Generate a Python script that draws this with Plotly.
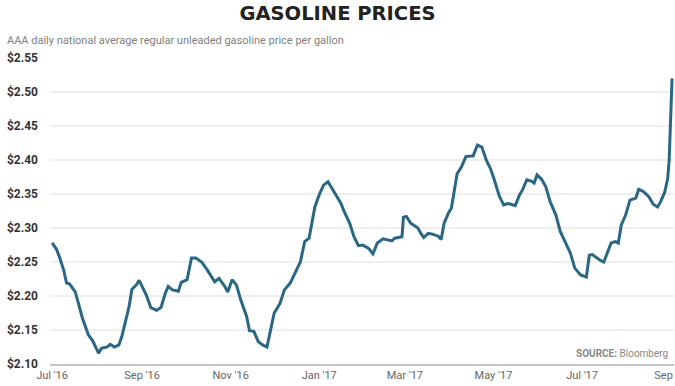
import plotly.graph_objects as go

dates = [
    "2016-07-01", "2016-07-04", "2016-07-06", "2016-07-09", "2016-07-11", "2016-07-13",
    "2016-07-17", "2016-07-20", "2016-07-22", "2016-07-26", "2016-07-29", "2016-08-02",
    "2016-08-04", "2016-08-08", "2016-08-10", "2016-08-13", "2016-08-16", "2016-08-18",
    "2016-08-20", "2016-08-23", "2016-08-25", "2016-08-28", "2016-08-30", "2016-09-02",
    "2016-09-04", "2016-09-07", "2016-09-11", "2016-09-14", "2016-09-17", "2016-09-19",
    "2016-09-22", "2016-09-26", "2016-09-28", "2016-10-02", "2016-10-05", "2016-10-08",
    "2016-10-12", "2016-10-16", "2016-10-21", "2016-10-24", "2016-10-28", "2016-10-30",
    "2016-11-02", "2016-11-05", "2016-11-08", "2016-11-12", "2016-11-14", "2016-11-17",
    "2016-11-20", "2016-11-23", "2016-11-26", "2016-11-28", "2016-12-01", "2016-12-05",
    "2016-12-08", "2016-12-12", "2016-12-15", "2016-12-19", "2016-12-22", "2016-12-25",
    "2016-12-29", "2017-01-01", "2017-01-04", "2017-01-07", "2017-01-09", "2017-01-13",
    "2017-01-16", "2017-01-18", "2017-01-22", "2017-01-25", "2017-01-28", "2017-01-31",
    "2017-02-04", "2017-02-07", "2017-02-10", "2017-02-14", "2017-02-17", "2017-02-20",
    "2017-02-22", "2017-02-27", "2017-02-28", "2017-03-02", "2017-03-05", "2017-03-10",
    "2017-03-12", "2017-03-14", "2017-03-17", "2017-03-20", "2017-03-24", "2017-03-26",
    "2017-03-28", "2017-03-31", "2017-04-02", "2017-04-04", "2017-04-06", "2017-04-09",
    "2017-04-12", "2017-04-16", "2017-04-17", "2017-04-20", "2017-04-23", "2017-04-26",
    "2017-04-29", "2017-05-02", "2017-05-05", "2017-05-08", "2017-05-11", "2017-05-13",
    "2017-05-16", "2017-05-19", "2017-05-21", "2017-05-24", "2017-05-27", "2017-05-29",
    "2017-05-31", "2017-06-03", "2017-06-06", "2017-06-09", "2017-06-13", "2017-06-16",
    "2017-06-20", "2017-06-23", "2017-06-26", "2017-06-30", "2017-07-04", "2017-07-06",
    "2017-07-08", "2017-07-11", "2017-07-14", "2017-07-16", "2017-07-19", "2017-07-21",
    "2017-07-24", "2017-07-26", "2017-07-28", "2017-07-31", "2017-08-03", "2017-08-07",
    "2017-08-09", "2017-08-12", "2017-08-16", "2017-08-19", "2017-08-22", "2017-08-24",
    "2017-08-27", "2017-08-29", "2017-08-30", "2017-08-31", "2017-09-01",
]

prices = [
    2.278, 2.269, 2.258, 2.238, 2.219, 2.218,
    2.206, 2.184, 2.167, 2.143, 2.134, 2.116,
    2.123, 2.125, 2.129, 2.125, 2.128, 2.140,
    2.157, 2.184, 2.210, 2.216, 2.223, 2.209,
    2.201, 2.183, 2.179, 2.183, 2.204, 2.214,
    2.209, 2.207, 2.220, 2.224, 2.256, 2.256,
    2.250, 2.238, 2.221, 2.226, 2.214, 2.206,
    2.224, 2.216, 2.194, 2.170, 2.149, 2.148,
    2.133, 2.128, 2.125, 2.145, 2.175, 2.189,
    2.209, 2.219, 2.233, 2.250, 2.280, 2.285,
    2.331, 2.349, 2.363, 2.368, 2.361, 2.346,
    2.336, 2.325, 2.307, 2.287, 2.274, 2.275,
    2.270, 2.262, 2.278, 2.284, 2.283, 2.281,
    2.285, 2.287, 2.316, 2.317, 2.307, 2.300,
    2.292, 2.286, 2.292, 2.291, 2.288, 2.283,
    2.307, 2.322, 2.329, 2.358, 2.380, 2.390,
    2.405, 2.406, 2.406, 2.422, 2.419, 2.400,
    2.387, 2.368, 2.347, 2.334, 2.336, 2.335,
    2.333, 2.349, 2.356, 2.371, 2.369, 2.366,
    2.378, 2.372, 2.361, 2.339, 2.319, 2.295,
    2.277, 2.263, 2.241, 2.231, 2.228, 2.260,
    2.261, 2.256, 2.252, 2.250, 2.268, 2.278,
    2.280, 2.278, 2.304, 2.319, 2.341, 2.344,
    2.357, 2.354, 2.346, 2.335, 2.331, 2.338,
    2.353, 2.373, 2.400, 2.450, 2.520,
]

y_ticks = [2.10, 2.15, 2.20, 2.25, 2.30, 2.35, 2.40, 2.45, 2.50, 2.55]
y_tick_labels = ["$2.10", "$2.15", "$2.20", "$2.25", "$2.30", "$2.35", "$2.40", "$2.45", "$2.50", "$2.55"]
x_ticks = ["2016-07-01", "2016-09-01", "2016-11-01", "2017-01-01", "2017-03-01",
           "2017-05-01", "2017-07-01", "2017-09-01"]
x_tick_labels = ["Jul '16", "Sep '16", "Nov '16", "Jan '17", "Mar '17", "May '17", "Jul '17", "Sep '17"]

title_text = "GASOLINE PRICES"
subtitle_text = "AAA daily national average regular unleaded gasoline price per gallon"
source_text = "<b>SOURCE:</b> Bloomberg"

fig = go.Figure()
fig.add_trace(go.Scatter(
    x=dates, y=prices, mode="lines",
    line=dict(color="#2a6784", width=3, shape="linear"),
    hoverinfo="skip", showlegend=False,
))

fig.update_layout(
    width=675, height=386,
    margin=dict(l=50, r=1, t=58, b=22),
    paper_bgcolor="white", plot_bgcolor="white",
    font=dict(family="Roboto, sans-serif"),
    title=dict(text=title_text, x=0.5, xanchor="center", y=1 - 13 / 386, yanchor="middle",
               font=dict(family="DejaVu Sans, sans-serif", size=19.5, color="#222222", weight="bold")),
    xaxis=dict(
        range=["2016-06-29 14:00", "2017-09-02 08:00"],
        tickmode="array", tickvals=x_ticks, ticktext=x_tick_labels,
        showgrid=False, zeroline=False,
        showline=True, linecolor="#c4c4c4", linewidth=2,
        ticks="", tickfont=dict(size=11, color="#666666"),
        ticklabeloverflow="allow",
        automargin=False,
    ),
    yaxis=dict(
        range=[2.10, 2.55],
        tickmode="array", tickvals=y_ticks, ticktext=y_tick_labels,
        showgrid=True, gridcolor="#efefef", gridwidth=1.5,
        zeroline=False, showline=False, ticks="",
        tickfont=dict(size=12, color="#333333", weight="bold"),
        ticklabelstandoff=11,
        automargin=False,
    ),
    annotations=[
        dict(text=subtitle_text, xref="paper", yref="paper", x=-45 / 624, xanchor="left",
             y=1 + 18 / 306, yanchor="middle", showarrow=False,
             font=dict(size=11, color="#808080")),
        dict(text=source_text, xref="paper", yref="paper", x=1 - 4 / 624, xanchor="right",
             y=11 / 306, yanchor="middle", showarrow=False,
             font=dict(size=10, color="#888888")),
    ],
)

fig.write_html("out.html", config={"displayModeBar": False},
               post_script="document.body.style.margin='0';document.body.style.overflow='hidden';")
